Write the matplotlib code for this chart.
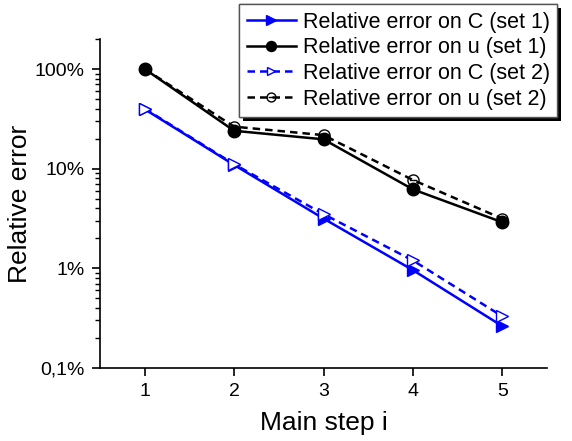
import numpy as np
import matplotlib
matplotlib.use("Agg")
import matplotlib.pyplot as plt
from matplotlib.path import Path
from matplotlib.ticker import FixedLocator, FuncFormatter, LogLocator, NullFormatter
import matplotlib.patheffects as pe

plt.rcParams['font.family'] = ['Liberation Sans', 'DejaVu Sans']

steps = [1, 2, 3, 4, 5]
# relative errors in percent
err_C_set1 = [39.5, 10.9, 3.16, 0.96, 0.263]
err_u_set1 = [100, 24.0, 19.7, 6.2, 2.9]
err_C_set2 = [40.0, 11.1, 3.5, 1.2, 0.33]
err_u_set2 = [100, 26.4, 21.7, 7.7, 3.15]
labels = ["Relative error on C (set 1)", "Relative error on u (set 1)",
          "Relative error on C (set 2)", "Relative error on u (set 2)"]

# circle with a bar through it
circ_minus = Path.make_compound_path(Path.unit_circle(),
                                     Path([(-0.65, 0), (0.65, 0)], [Path.MOVETO, Path.LINETO]))

fig = plt.figure(figsize=(5.72, 4.41), dpi=100)
ax = fig.add_axes([100/572, 1-368/441, 447/572, 329/441])

l1, = ax.plot(steps, err_C_set1, color='#0000ff', lw=1.8, marker='>', ms=9, label=labels[0])
l2, = ax.plot(steps, err_u_set1, color='black', lw=1.8, marker='o', ms=9, label=labels[1])
l3, = ax.plot(steps, err_C_set2, color='#0000ff', lw=1.8, ls=(0, (3, 2)), marker='>', ms=8,
              mfc='white', mew=1.0, label=labels[2])
l4, = ax.plot(steps, err_u_set2, color='black', lw=1.8, ls=(0, (3, 2)), marker=circ_minus, ms=8,
              mfc='none', mew=1.0, label=labels[3])

ax.set_yscale('log')
ax.set_ylim(0.1, 200)
ax.set_xlim(0.5, 5.5)
ax.set_xticks(steps)
ax.yaxis.set_major_locator(FixedLocator([0.1, 1, 10, 100]))
ax.yaxis.set_minor_locator(LogLocator(base=10, subs=np.arange(2, 10)))
ax.yaxis.set_minor_formatter(NullFormatter())
ax.yaxis.set_major_formatter(FuncFormatter(
    lambda v, p: ("%g%%" % v).replace('.', ',')))

for s in ['top', 'right']:
    ax.spines[s].set_visible(False)
for s in ['left', 'bottom']:
    ax.spines[s].set_linewidth(1.2)
ax.tick_params(axis='both', which='major', direction='out', length=6, width=1.2,
               labelsize=14, pad=5)
ax.tick_params(axis='y', which='minor', direction='out', length=3.5, width=1.0)

ax.set_xlabel("Main step i", fontsize=19, labelpad=8)
ax.set_ylabel("Relative error", fontsize=19, labelpad=2)

leg = fig.legend(handles=[l1, l2, l3, l4], loc='upper left',
                 bbox_to_anchor=(239/572, 1-4/441), fontsize=15.5, frameon=True,
                 fancybox=False, shadow=False, handlelength=2.3, handletextpad=0.3,
                 borderpad=0.35, labelspacing=0.22, borderaxespad=0, markerscale=0.8,
                 framealpha=1.0)
frame = leg.get_frame()
frame.set_facecolor('white')
frame.set_edgecolor('#555555')
frame.set_linewidth(1.0)
frame.set_path_effects([pe.withSimplePatchShadow(offset=(3, -3), shadow_rgbFace='black', alpha=1.0),
                        pe.Normal()])

fig.savefig("out.png", dpi=100)
